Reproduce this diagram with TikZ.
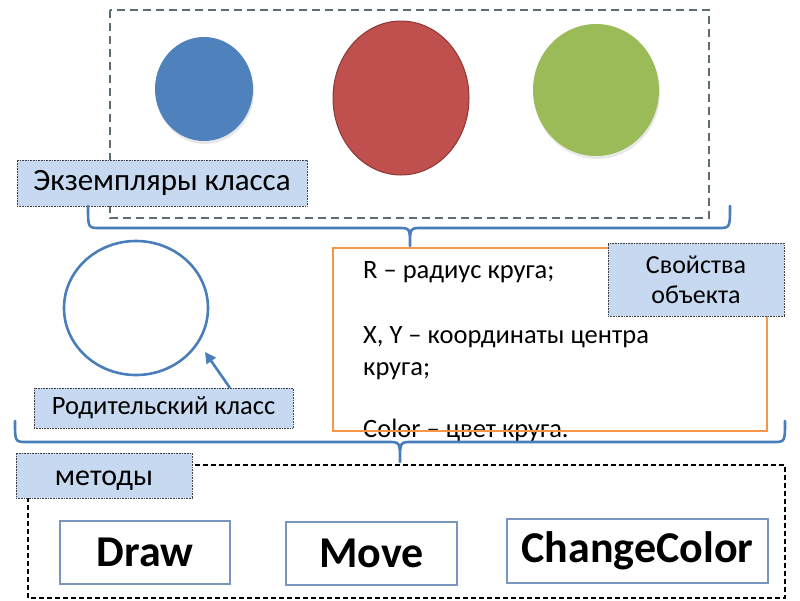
\documentclass[tikz,border=0pt]{standalone}
\usepackage{fontspec}
\setmainfont{Carlito}
\usetikzlibrary{arrows.meta}
\definecolor{lblfill}{HTML}{C6D9F0}
\definecolor{bracec}{HTML}{4A7EBB}
\definecolor{orangec}{HTML}{F79646}
\definecolor{bluef}{HTML}{4F81BD}
\definecolor{redf}{HTML}{C0504D}
\definecolor{redd}{HTML}{8C3836}
\definecolor{greenf}{HTML}{9BBB59}
\definecolor{dashg}{HTML}{5F6B73}
\definecolor{methb}{HTML}{7896BE}
\tikzset{
  lbl/.style={draw=black!75, densely dotted, line width=0.6pt, fill=lblfill, inner sep=0pt, text=black},
  bracestyle/.style={draw=bracec, line width=2.6pt, line cap=round, line join=round},
  methbox/.style={draw=methb, line width=1.8pt, inner sep=0pt, font=\fontsize{44}{46}\selectfont\bfseries},
  proptext/.style={anchor=base west, inner sep=0pt, font=\fontsize{26.5}{30}\selectfont},
}
\begin{document}
\begin{tikzpicture}[x=1pt,y=-1pt]
\useasboundingbox (0,0) rectangle (800,600);
% top dashed frame
\draw[dashg, line width=1.6pt, dash pattern=on 8pt off 5pt] (110,10) rectangle (709,218);
% instance ellipses
\fill[black!9] (205,92) ellipse [x radius=49, y radius=52];
\fill[bluef] (204,89) ellipse [x radius=49, y radius=52];
\draw[redd, line width=1pt, fill=redf] (401,98) ellipse [x radius=68, y radius=77];
\fill[black!9] (597,93) ellipse [x radius=63, y radius=66];
\fill[greenf] (596,90) ellipse [x radius=63, y radius=66];
% label instances
\node[lbl, minimum width=290pt, minimum height=46pt, font=\fontsize{31}{34}\selectfont] (inst) at (162,183) {Экземпляры класса};
% top brace
\draw[bracestyle] (88,206) .. controls (88,228) .. (100,228) -- (398,228) .. controls (410,228) .. (410,246)
   .. controls (410,228) .. (422,228) -- (718,228) .. controls (730,228) .. (730,206);
% orange properties box
\draw[orangec, line width=2pt] (333,248) rectangle (767,431);
\node[proptext] (p1) at (363,278) {R – радиус круга;};
\node[proptext] (p2) at (363,343) {X, Y – координаты центра};
\node[proptext] (p3) at (363,375) {круга;};
\node[proptext] (p4) at (363,437) {Color – цвет круга.};
\draw[orangec, line width=2pt] (333,431) -- (767,431);
\node[lbl, minimum width=176pt, minimum height=73pt, align=center, font=\fontsize{26}{30}\selectfont] (props) at (696,279.5) {Свойства\\объекта};
% parent class
\draw[bracec, line width=2.6pt] (136,308) ellipse [x radius=72, y radius=67];
\coordinate (ahead) at (205,352);
\coordinate (atail) at (230,388);
\draw[bracec, line width=2.6pt, -{Triangle[length=11pt,width=11pt]}] (atail) -- (ahead);
\node[lbl, minimum width=259pt, minimum height=40pt, font=\fontsize{26.5}{30}\selectfont] (parent) at (163.5,408) {Родительский класс};
% middle brace
\draw[bracestyle] (15,421) .. controls (15,442) .. (27,442) -- (388,442) .. controls (400,442) .. (400,462)
   .. controls (400,442) .. (412,442) -- (773,442) .. controls (785,442) .. (785,421);
% bottom dashed frame
\draw[black, line width=1.3pt, dash pattern=on 5pt off 3pt] (28,465) rectangle (785,598);
\node[lbl, minimum width=176pt, minimum height=45pt, text height=20pt, text depth=0pt, font=\fontsize{30}{32}\selectfont] (meth) at (104,475.5) {методы};
% method boxes
\node[methbox, minimum width=170pt, minimum height=63pt] (draw) at (145,552.5) {Draw};
\node[methbox, minimum width=171pt, minimum height=63pt] (move) at (371.5,553.5) {Move};
\node[methbox, minimum width=261pt, minimum height=64pt] (cc) at (637.5,551) {ChangeColor};
\end{tikzpicture}
\end{document}
